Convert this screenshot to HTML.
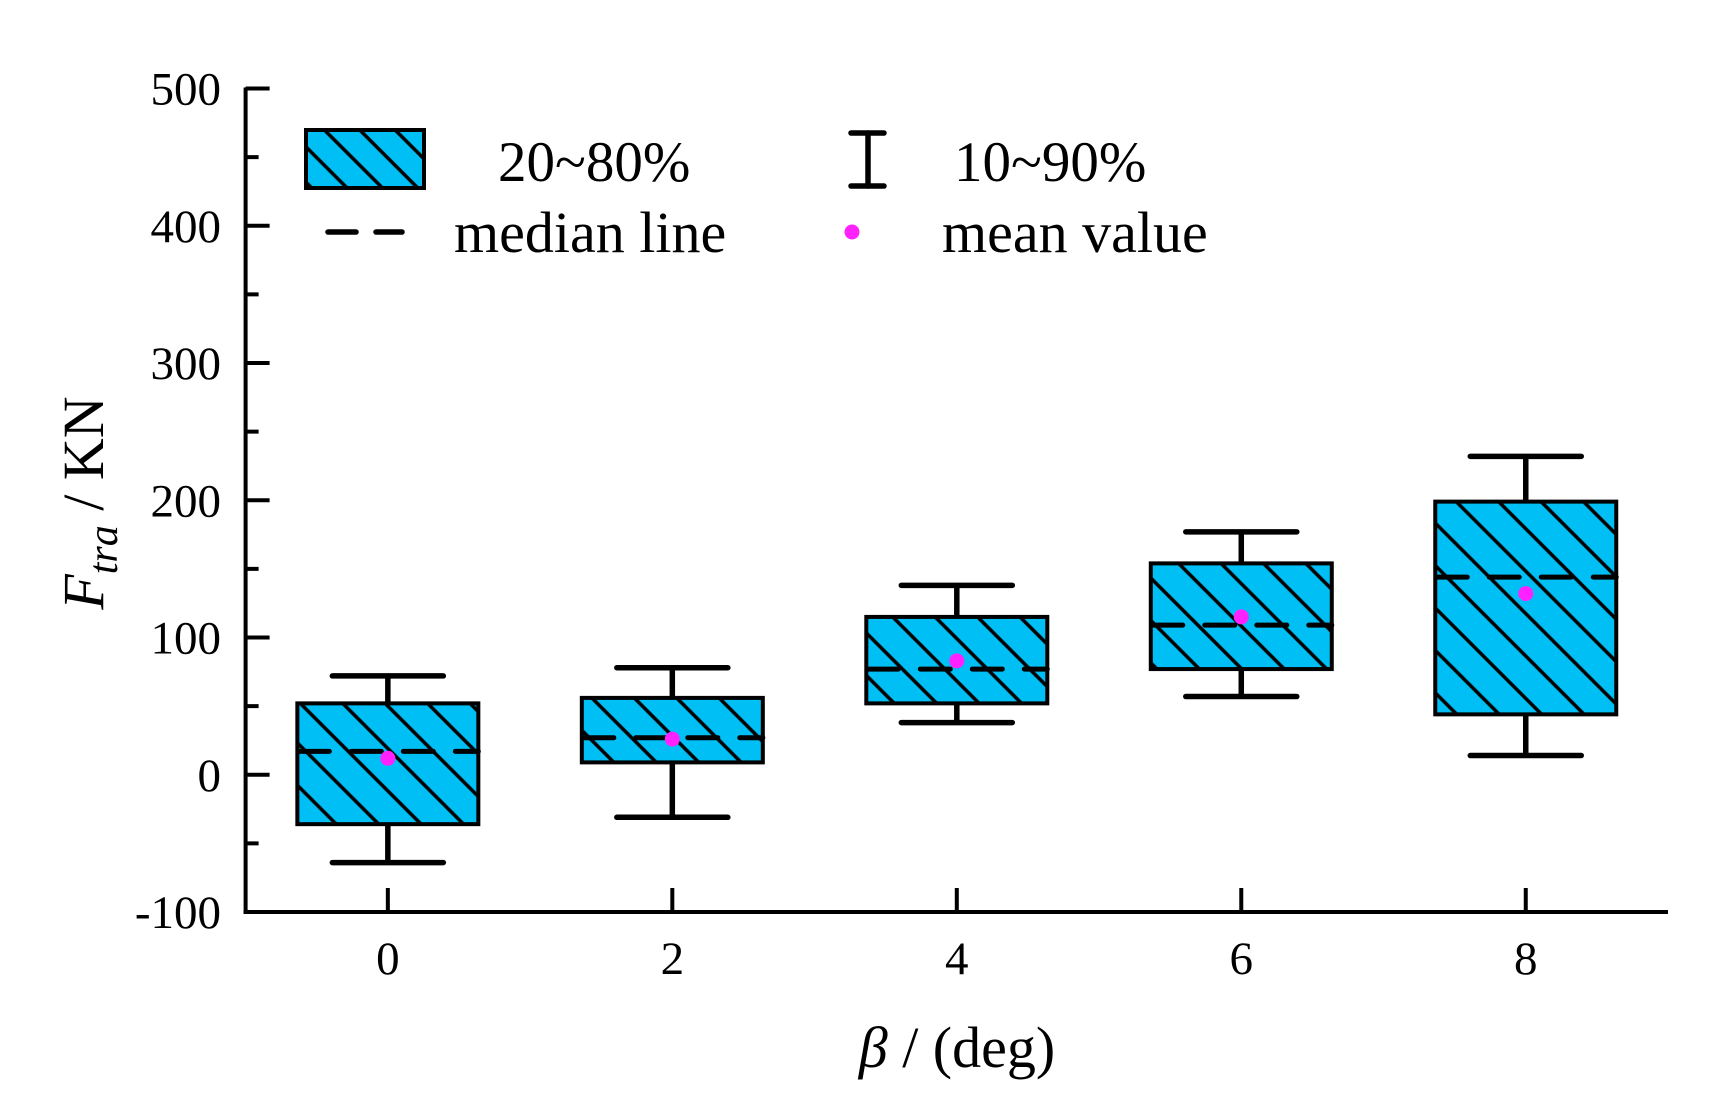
<!DOCTYPE html>
<html><head><meta charset="utf-8"><style>
html,body{margin:0;padding:0;background:#fff;}
svg text{font-family:"Liberation Serif","DejaVu Serif",serif;fill:#000;}
</style></head><body>
<svg id="chart" width="1735" height="1096" viewBox="0 0 1735 1096" xmlns="http://www.w3.org/2000/svg">
<defs>
<pattern id="hatch" patternUnits="userSpaceOnUse" width="30" height="30" patternTransform="rotate(45)">
<rect width="30" height="30" fill="#00bff5"/>
<line x1="0" y1="15" x2="30" y2="15" stroke="#000" stroke-width="3.5"/>
</pattern>
<pattern id="hatch2" patternUnits="userSpaceOnUse" width="25" height="25" patternTransform="rotate(45)">
<rect width="25" height="25" fill="#00bff5"/>
<line x1="0" y1="12.5" x2="25" y2="12.5" stroke="#000" stroke-width="3.5"/>
</pattern>
</defs>
<g id="plot"></g>
<g id="legend">
<rect x="306" y="130" width="118" height="58" fill="url(#hatch2)" stroke="#000" stroke-width="4"/>
<text x="498" y="181" font-size="57">20~80%</text>
<g stroke="#000" stroke-width="5.5" stroke-linecap="round">
<line x1="851" y1="133" x2="884" y2="133"/><line x1="851" y1="186" x2="884" y2="186"/><line x1="868" y1="133" x2="868" y2="186"/>
</g>
<text x="954" y="181" font-size="57">10~90%</text>
<line x1="328" y1="232" x2="402" y2="232" stroke="#000" stroke-width="5.5" stroke-dasharray="28,20" stroke-linecap="round"/>
<text x="454" y="252" font-size="58">median line</text>
<circle cx="852" cy="232" r="7.5" fill="#ff22ff"/>
<text x="942" y="252" font-size="58">mean value</text>
</g>
<text transform="translate(103,503) rotate(-90)" text-anchor="middle" font-size="58"><tspan font-style="italic">F</tspan><tspan font-style="italic" font-size="42" dy="14">tra</tspan><tspan dy="-14"> / KN</tspan></text>
<text x="957" y="1067" text-anchor="middle" font-size="58"><tspan font-style="italic">β</tspan> / (deg)</text>
</svg>
<script>
const categories = [0, 2, 4, 6, 8];
const whiskerLow = [-64, -31, 38, 57, 14];
const boxLow = [-36, 9, 52, 77, 44];
const medians = [17, 27, 77, 109, 144];
const means = [12, 26, 83, 115, 132];
const boxHigh = [52, 56, 115, 154, 199];
const whiskerHigh = [72, 78, 138, 177, 232];
const yTicks = [-100, 0, 100, 200, 300, 400, 500];
const yMinor = [-50, 50, 150, 250, 350, 450];
const xTicks = [0, 2, 4, 6, 8];

const NS = "http://www.w3.org/2000/svg";
const X0 = 245.6, X1 = 1668, Y0 = 912, Y1 = 88.5;
const xMin = -1, xMax = 9, yMin = -100, yMax = 500;
const xs = v => X0 + (v - xMin) / (xMax - xMin) * (X1 - X0);
const ys = v => Y0 - (v - yMin) / (yMax - yMin) * (Y0 - Y1);
const g = document.getElementById('plot');
function mk(tag, attrs, parent) {
  const e = document.createElementNS(NS, tag);
  for (const k in attrs) e.setAttribute(k, attrs[k]);
  (parent || g).appendChild(e);
  return e;
}
const boxW = 181, capW = 111;
categories.forEach((c, i) => {
  const cx = xs(c);
  const grp = mk('g', {});
  
  
  const w1 = mk('line', {x1: cx, x2: cx, y1: ys(whiskerHigh[i]), y2: ys(boxHigh[i]), stroke: '#000', 'stroke-width': 5.5}, grp);
  
  
  const w2 = mk('line', {x1: cx, x2: cx, y1: ys(boxLow[i]), y2: ys(whiskerLow[i]), stroke: '#000', 'stroke-width': 5.5}, grp);
  
  
  const c1 = mk('line', {x1: cx - capW/2, x2: cx + capW/2, y1: ys(whiskerHigh[i]), y2: ys(whiskerHigh[i]), stroke: '#000', 'stroke-width': 5.5, 'stroke-linecap': 'round'}, grp);
  
  
  const c2 = mk('line', {x1: cx - capW/2, x2: cx + capW/2, y1: ys(whiskerLow[i]), y2: ys(whiskerLow[i]), stroke: '#000', 'stroke-width': 5.5, 'stroke-linecap': 'round'}, grp);
  
  
  const b = mk('rect', {x: cx - boxW/2, y: ys(boxHigh[i]), width: boxW, height: ys(boxLow[i]) - ys(boxHigh[i]), fill: 'url(#hatch)', stroke: '#000', 'stroke-width': 4}, grp);
  
  
  const m = mk('line', {x1: cx - boxW/2 + 2, x2: cx + boxW/2, y1: ys(medians[i]), y2: ys(medians[i]), stroke: '#000', 'stroke-width': 5, 'stroke-dasharray': '30,22', 'stroke-linecap': 'round'}, grp);
  
  
  const p = mk('circle', {cx: cx, cy: ys(means[i]), r: 7.5, fill: '#ff22ff'}, grp);
  
  
});
const ax = mk('g', {stroke: '#000', 'stroke-width': 4});


const ya = mk('line', {x1: X0, x2: X0, y1: Y1 - 1, y2: Y0 + 2}, ax);


const xa = mk('line', {x1: X0 - 2, x2: X1, y1: Y0, y2: Y0}, ax);


yTicks.forEach(v => {
  const t = mk('line', {x1: X0, x2: X0 + 24, y1: ys(v), y2: ys(v)}, ax);
  
  
  const l = mk('text', {x: 221, y: ys(v) + 16, 'text-anchor': 'end', 'font-size': 47, stroke: 'none'});
  l.textContent = String(v);
  
  
});
yMinor.forEach(v => {
  const t = mk('line', {x1: X0, x2: X0 + 13, y1: ys(v), y2: ys(v)}, ax);
  
  
});
xTicks.forEach(v => {
  const t = mk('line', {x1: xs(v), x2: xs(v), y1: Y0, y2: Y0 - 24}, ax);
  
  
  const l = mk('text', {x: xs(v), y: 974, 'text-anchor': 'middle', 'font-size': 47, stroke: 'none'});
  l.textContent = String(v);
  
  
});
</script>
</body></html>
